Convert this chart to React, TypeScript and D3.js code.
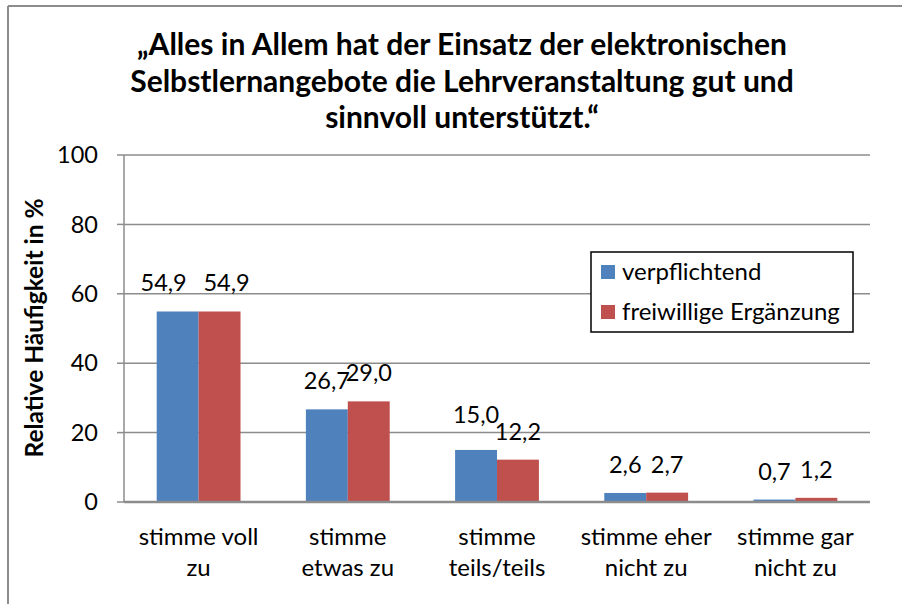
import React from 'react';
import * as d3 from 'd3';

// chart data
const categories = [
  ['stimme voll', 'zu'],
  ['stimme', 'etwas zu'],
  ['stimme', 'teils/teils'],
  ['stimme eher', 'nicht zu'],
  ['stimme gar', 'nicht zu'],
];
const seriesNames = ['verpflichtend', 'freiwillige Ergänzung'];
const verpflichtend = [54.9, 26.7, 15.0, 2.6, 0.7];
const freiwillig = [54.9, 29.0, 12.2, 2.7, 1.2];
const yTicks = [0, 20, 40, 60, 80, 100];
const colors = ['#4F81BD', '#C0504D'];
const titleLines = [
  '„Alles in Allem hat der Einsatz der elektronischen',
  'Selbstlernangebote die Lehrveranstaltung gut und',
  'sinnvoll unterstützt.“',
];

const FONT = 'Lato, "Open Sans", sans-serif';

const App = () => {
  const width = 902, height = 604;
  const margin = { top: 155, right: 32, bottom: 102, left: 124 };
  const plotW = width - margin.left - margin.right;
  const plotH = height - margin.top - margin.bottom;

  const keys = categories.map((c) => c.join(' '));
  const x0 = d3.scaleBand().domain(keys).range([0, plotW]).padding(0);
  const x1 = d3.scaleBand().domain(seriesNames).range([0, x0.bandwidth()]).paddingInner(0).paddingOuter(0.78);
  const y = d3.scaleLinear().domain([0, 100]).range([plotH, 0]);
  const values = [verpflichtend, freiwillig];
  const fmt = (v) => d3.format('.1f')(v).replace('.', ',');

  // simple label collision handling, roughly like Excel does it
  const labelShift = (ci, si) => {
    const a = values[0][ci], b = values[1][ci];
    const dy = Math.abs(y(a) - y(b));
    const wide = fmt(a).length > 3 && fmt(b).length > 3;
    if (!wide) return { dx: 0, dy: 0 };
    if (dy < 4) return { dx: si === 0 ? -14 : 7, dy: 0 };
    // left label sits higher and runs into the right one: lift it a bit
    if (dy < 14 && a > b) return { dx: 0, dy: si === 0 ? -7 : 0 };
    return { dx: 0, dy: 0 };
  };

  return (
    <svg width={width} height={height} style={{ position: 'absolute', left: 0, top: 0, background: '#fff' }} fontFamily={FONT}>
      {/* chart border */}
      <line x1={8} y1={6} x2={width} y2={6} stroke="#8c8c8c" strokeWidth={2} />
      <line x1={8} y1={6} x2={8} y2={height} stroke="#8c8c8c" strokeWidth={2} />

      {/* title */}
      <text x={462} textAnchor="middle" fontSize={30} fontWeight="bold" fill="#000">
        {titleLines.map((t, i) => (
          <tspan key={i} x={462} y={55 + i * 36.5}>{t}</tspan>
        ))}
      </text>

      <g transform={`translate(${margin.left},${margin.top})`}>
        {/* grid */}
        {yTicks.map((t) => (
          <g key={t}>
            {t > 0 && <line x1={0} x2={plotW} y1={y(t)} y2={y(t)} stroke="#8c8c8c" strokeWidth={1.5} />}
            <line x1={-7} x2={0} y1={y(t)} y2={y(t)} stroke="#8c8c8c" strokeWidth={1.5} />
            <text x={-26} y={y(t)} dy="0.35em" textAnchor="end" fontSize={23.5} fill="#000">{t}</text>
          </g>
        ))}
        <line x1={0} x2={0} y1={0} y2={plotH} stroke="#8c8c8c" strokeWidth={1.5} />

        {/* bars */}
        {keys.map((k, ci) => (
          <g key={k} transform={`translate(${x0(k)},0)`}>
            {seriesNames.map((s, si) => {
              const v = values[si][ci];
              const bx = x1(s);
              const sh = labelShift(ci, si);
              return (
                <g key={s}>
                  <rect x={bx} y={y(v)} width={x1.bandwidth()} height={plotH - y(v)} fill={colors[si]} />
                  <text x={bx + x1.bandwidth() / 2 + sh.dx} y={y(v) - 20 + sh.dy} textAnchor="middle" fontSize={23.5} fill="#000">{fmt(v)}</text>
                </g>
              );
            })}
            {/* category labels */}
            <text textAnchor="middle" fontSize={24} fill="#000">
              {categories[ci].map((line, li) => (
                <tspan key={li} x={x0.bandwidth() / 2} y={plotH + 43 + li * 31}>{line}</tspan>
              ))}
            </text>
          </g>
        ))}
        <line x1={0} x2={plotW} y1={plotH} y2={plotH} stroke="#8c8c8c" strokeWidth={2.5} />
      </g>

      {/* y axis title */}
      <text transform="translate(43,328) rotate(-90)" textAnchor="middle" fontSize={24.5} fontWeight="bold" fill="#000">
        Relative Häufigkeit in %
      </text>

      {/* legend */}
      <g transform="translate(591,252)">
        <rect x={0} y={0} width={262} height={80} fill="#fff" stroke="#000" strokeWidth={1.5} />
        {seriesNames.map((s, i) => (
          <g key={s} transform={`translate(10,${20 + i * 40})`}>
            <rect x={0} y={-7} width={14} height={14} fill={colors[i]} />
            <text x={21} y={0} dy="0.35em" fontSize={24} fill="#000">{s}</text>
          </g>
        ))}
      </g>
    </svg>
  );
};

export default App;
